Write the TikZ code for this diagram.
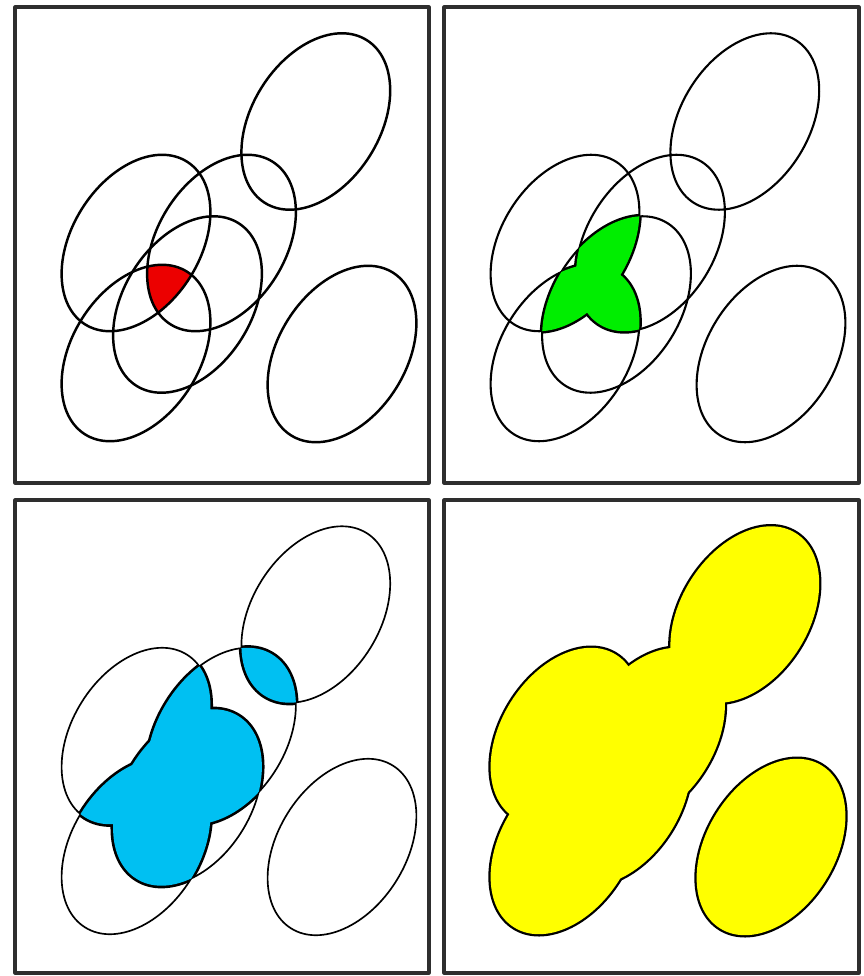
\documentclass[tikz,border=0pt]{standalone}
\definecolor{cred}{RGB}{236,0,0}
\definecolor{cgreen}{RGB}{0,238,0}
\definecolor{cblue}{RGB}{0,192,242}
\definecolor{cyellow}{RGB}{255,255,0}
% tilted oval, centre (#2,#3) in pixel units
\newcommand{\mkegg}[3]{\def#1{[shift={(#2,#3)},rotate=58] (0,0) ellipse [x radius=96, y radius=64]}}
\mkegg{\EI}{315.8}{121.5}
\mkegg{\EII}{136}{243}
\mkegg{\EIII}{221.5}{243}
\mkegg{\EIV}{187.5}{304.5}
\mkegg{\EV}{136}{353}
\mkegg{\EVI}{342}{354}
\newcommand{\setP}[2]{\expandafter\let\expandafter#1\csname E#2\endcsname}
\newcommand{\alloutlines}[1]{\foreach \n in {I,II,III,IV,V,VI}{\setP{\Pa}{\n}\draw[#1] \Pa;}}
\tikzset{frame/.style={draw=black!82,line width=1.8pt},
  thinA/.style={line width=1.4pt},
  thinB/.style={line width=1.2pt},
  thinC/.style={line width=0.95pt},
  bndB/.style={line width=2.8pt},
  bndC/.style={line width=3pt},
  bndD/.style={line width=2.6pt}}
\begin{document}
\begin{tikzpicture}[x=0.02cm,y=-0.02cm,line join=round]
\useasboundingbox (0,0) rectangle (863,976);
\fill[white] (0,0) rectangle (863,976);
% ---------- panel 1 : at least four ----------
\begin{scope}
  \begin{scope}
    \clip \EII; \clip \EIII; \clip \EIV; \fill[cred] \EV;
  \end{scope}
  \alloutlines{thinA}
  \draw[frame] (15,7) rectangle (429,483);
\end{scope}
% ---------- panel 2 : at least three ----------
\begin{scope}[shift={(429,0)}]
  \alloutlines{thinB}
  \foreach \a/\b/\c in {II/III/IV,II/III/V,II/IV/V,III/IV/V}{
    \setP{\Pa}{\a}\setP{\Pb}{\b}\setP{\Pc}{\c}
    \begin{scope}\clip \Pb; \clip \Pc; \draw[bndB] \Pa;\end{scope}
    \begin{scope}\clip \Pa; \clip \Pc; \draw[bndB] \Pb;\end{scope}
    \begin{scope}\clip \Pa; \clip \Pb; \draw[bndB] \Pc;\end{scope}
  }
  \foreach \a/\b/\c in {II/III/IV,II/III/V,II/IV/V,III/IV/V}{
    \setP{\Pa}{\a}\setP{\Pb}{\b}\setP{\Pc}{\c}
    \begin{scope}\clip \Pa; \clip \Pb; \fill[cgreen] \Pc;\end{scope}
  }
  \draw[frame] (15,7) rectangle (430,483);
\end{scope}
% ---------- panel 3 : at least two ----------
\begin{scope}[shift={(0,493)}]
  \alloutlines{thinC}
  \foreach \a/\b in {I/II,I/III,I/IV,I/V,I/VI,II/III,II/IV,II/V,II/VI,III/IV,III/V,III/VI,IV/V,IV/VI,V/VI}{
    \setP{\Pa}{\a}\setP{\Pb}{\b}
    \begin{scope}\clip \Pa; \draw[bndC] \Pb;\end{scope}
    \begin{scope}\clip \Pb; \draw[bndC] \Pa;\end{scope}
  }
  \foreach \a/\b in {I/II,I/III,I/IV,I/V,I/VI,II/III,II/IV,II/V,II/VI,III/IV,III/V,III/VI,IV/V,IV/VI,V/VI}{
    \setP{\Pa}{\a}\setP{\Pb}{\b}
    \begin{scope}\clip \Pa; \fill[cblue] \Pb;\end{scope}
  }
  \draw[frame] (15,7) rectangle (429,480);
\end{scope}
% ---------- panel 4 : at least one ----------
\begin{scope}[shift={(429,493)}]
  \alloutlines{bndD}
  \foreach \n in {I,II,III,IV,V,VI}{\setP{\Pa}{\n}\fill[cyellow] \Pa;}
  \draw[frame] (15,7) rectangle (430,480);
\end{scope}
\end{tikzpicture}
\end{document}
